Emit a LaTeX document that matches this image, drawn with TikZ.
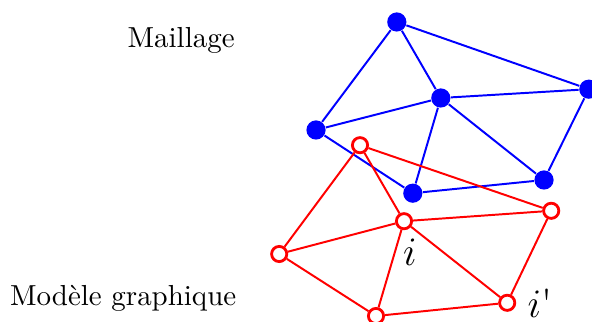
\documentclass[tikz,border=0pt]{standalone}
\usepackage{textcomp}
\usepackage{tikz}
\usetikzlibrary{positioning}

\tikzset{
  bnode/.style={circle, fill=blue, inner sep=0pt, minimum size=0.24cm},
  rnode/.style={circle, draw=red, fill=white, line width=1pt, inner sep=0pt, minimum size=0.19cm},
  bedge/.style={blue, line width=0.7pt},
  redge/.style={red, line width=0.7pt},
  lbl/.style={inner sep=0pt, font=\fontsize{10.3pt}{12pt}\selectfont}
}

\begin{document}
\begin{tikzpicture}
        \useasboundingbox (0,0) rectangle (7.4,4.025);
        % maillage
        \node[bnode] (b1) at (4.96,3.75) {};
        \node[bnode] (b2) at (5.51,2.80) {};
        \node[bnode] (b3) at (7.36,2.91) {};
        \node[bnode] (b4) at (3.95,2.40) {};
        \node[bnode] (b5) at (5.16,1.61) {};
        \node[bnode] (b6) at (6.80,1.775) {};
        \draw[bedge] (b1)--(b4) (b1)--(b2) (b1)--(b3);
        \draw[bedge] (b4)--(b2) (b2)--(b3);
        \draw[bedge] (b4)--(b5) (b2)--(b5) (b2)--(b6);
        \draw[bedge] (b3)--(b6) (b5)--(b6);
        % modele graphique
        \node[rnode] (r1) at (4.50,2.21) {};
        \node[rnode] (r2) at (5.05,1.26) {};
        \node[rnode] (r3) at (6.89,1.39) {};
        \node[rnode] (r4) at (3.49,0.85) {};
        \node[rnode] (r5) at (4.70,0.075) {};
        \node[rnode] (r6) at (6.34,0.24) {};
        \draw[redge] (r1)--(r4) (r1)--(r2) (r1)--(r3);
        \draw[redge] (r4)--(r2) (r2)--(r3);
        \draw[redge] (r4)--(r5) (r2)--(r5) (r2)--(r6);
        \draw[redge] (r3)--(r6) (r5)--(r6);
        % textes
        \node[lbl] (li) at (5.125,0.875) {\Large $i$};
        \node[lbl] (lip) at (6.75,0.24) {\Large $i$\textquotesingle};
        \node[lbl, anchor=east] (maillage) at (2.94,3.525) {Maillage};
        \node[lbl, anchor=east] (modele) at (2.96,0.3) {Mod\`ele graphique};
    \end{tikzpicture}
\end{document}
